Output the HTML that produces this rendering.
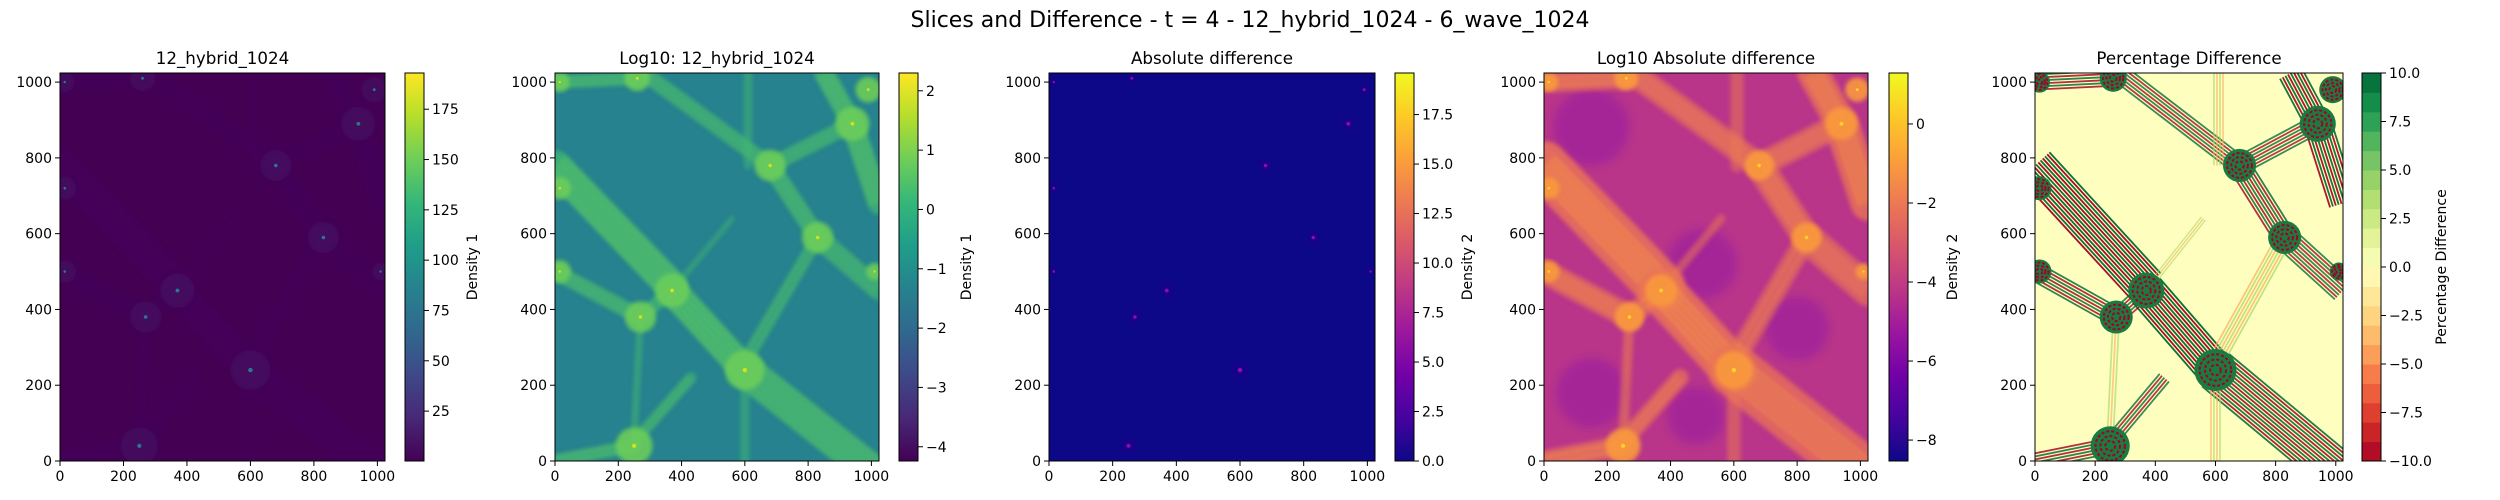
<!DOCTYPE html>
<html><head><meta charset="utf-8"><style>
html,body{margin:0;padding:0;background:#fff;}
svg{display:block;font-family:"DejaVu Sans","Liberation Sans",sans-serif;}
</style></head><body>
<svg id="fig" width="2500" height="500" viewBox="0 0 2500 500" xmlns="http://www.w3.org/2000/svg">
<defs>
<filter id="blur2" x="-10%" y="-10%" width="120%" height="120%"><feGaussianBlur stdDeviation="2"/></filter>
<filter id="blur4" x="-10%" y="-10%" width="120%" height="120%"><feGaussianBlur stdDeviation="4"/></filter>
</defs>
<text x="1250" y="27" font-size="22" text-anchor="middle" fill="#000">Slices and Difference - t = 4 - 12_hybrid_1024 - 6_wave_1024</text>
</svg>
<script>
// ---- data (data coordinates 0..1024) ----
const nodeX = [270, 370, 600, 680, 830, 940, 990, 15, 15, 250, 260, 15, 1010];
const nodeY = [380, 450, 240, 780, 590, 890, 980, 720, 500, 40, 1010, 1000, 500];
const nodeR = [55, 60, 70, 55, 55, 60, 45, 40, 40, 65, 45, 35, 30];
const filX1 = [0, 370, 600, 0, 270, 370, 280, 680, 830, 830, 680, 940, 940, 600, 610, 270, 250, 250, 0];
const filY1 = [780, 450, 240, 500, 380, 450, 1024, 780, 590, 590, 780, 890, 890, 240, 780, 380, 40, 50, 1000];
const filX2 = [370, 600, 1024, 270, 370, 560, 680, 830, 1024, 620, 940, 1024, 850, 600, 610, 250, 0, 430, 260];
const filY2 = [460, 240, -40, 380, 450, 640, 780, 590, 450, 290, 890, 680, 1024, 0, 1024, 60, 0, 220, 1010];
const filW  = [140, 130, 150, 70, 60, 25, 70, 80, 90, 60, 70, 100, 90, 40, 40, 30, 60, 50, 60];
const filS  = [1, 1, 0.8, 0.7, 0.6, 0.2, 0.6, 0.7, 0.6, 0.5, 0.6, 0.9, 0.9, 0.2, 0.2, 0.3, 0.7, 0.6, 0.7];
const axisTicks = [0, 200, 400, 600, 800, 1000];
const panelTitles = ["12_hybrid_1024", "Log10: 12_hybrid_1024", "Absolute difference", "Log10 Absolute difference", "Percentage Difference"];
const cbLabels = ["Density 1", "Density 1", "Density 2", "Density 2", "Percentage Difference"];
const cbMin = [0.2, -4.24, 0, -8.53, -10];
const cbMax = [193, 2.3, 19.6, 1.29, 10];
const cbTicks1 = [25, 50, 75, 100, 125, 150, 175];
const cbTicks2 = [-4, -3, -2, -1, 0, 1, 2];
const cbTicks3 = [0, 2.5, 5, 7.5, 10, 12.5, 15, 17.5];
const cbTicks4 = [-8, -6, -4, -2, 0];
const cbTicks5 = [-10, -7.5, -5, -2.5, 0, 2.5, 5, 7.5, 10];

// ---- layout ----
const AX = [60, 555, 1049, 1544, 2035], AW = [325, 324, 326, 324, 308];
const CBX = [405, 899, 1395, 1889, 2362], CBW = 19;
const CBLOFF = [53, 53, 58, 49, 65];
const Y0 = 73, Y1 = 461;
const NS = "http://www.w3.org/2000/svg";
const svg = document.getElementById('fig');
function mk(tag, attrs, parent){const e=document.createElementNS(NS,tag);for(const k in attrs)e.setAttribute(k,attrs[k]);(parent||svg).appendChild(e);return e;}
const defs = svg.querySelector('defs');

const viridis=["#440154","#482878","#3e4989","#31688e","#26828e","#1f9e89","#35b779","#6ece58","#b5de2b","#fde725"];
const plasma=["#0d0887","#46039f","#7201a8","#9c179e","#bd3786","#d8576b","#ed7953","#fb9f3a","#fdca26","#f0f921"];
const rdylgn=["#a50026","#d73027","#f46d43","#fdae61","#fee08b","#ffffbf","#d9ef8b","#a6d96a","#66bd63","#1a9850","#006837"];
function hex(c){return [1,3,5].map(i=>parseInt(c.substr(i,2),16));}
function interp(cm,t){t=Math.max(0,Math.min(1,t));const p=t*(cm.length-1),i=Math.min(Math.floor(p),cm.length-2),f=p-i;const a=hex(cm[i]),b=hex(cm[i+1]);return 'rgb('+a.map((v,k)=>Math.round(v+(b[k]-v)*f)).join(',')+')';}

const themes = [
 {bg:"#440154", fil:"#460b5e", filO:0.5, node:"#450a5e", spot:"#2a788e", nr:0.9},
 {bg:"#26828e", fil:"#3fb873", filO:0.75, node:"#6ccd5a", spot:"#d2e21b", nr:0.9},
 {bg:"#0d0887", fil:"#0d0887", filO:0, node:"#1f068f", spot:"#8f0da4", nr:0.4},
 {bg:"#b8358a", fil:"#ea7457", filO:0.85, node:"#f99a3e", spot:"#fdd12a", nr:0.85},
 {bg:"#feffbe", fil:null, filO:1, node:"#1a9850", spot:"#a50026", nr:1}
];

for(let p=0;p<5;p++){
  const g = mk('g',{});
  
  
  const x0=AX[p], w=AW[p];
  const sx=v=>x0+v/1024*w, sy=v=>Y1-v/1024*(Y1-Y0), sl=v=>v/1024*w;
  const cp=mk('clipPath',{id:'clip'+p},defs); mk('rect',{x:x0,y:Y0,width:w,height:Y1-Y0},cp);
  const plot=mk('g',{'clip-path':'url(#clip'+p+')'},g);
  
  
  const th=themes[p];
  mk('rect',{x:x0,y:Y0,width:w,height:Y1-Y0,fill:th.bg},plot);
  if(p===3){
    const pg=mk('g',{filter:'url(#blur4)',opacity:0.6},plot);
    [[150,880,120],[500,520,110],[150,180,110],[800,350,100],[480,120,90]].forEach(c=>mk('circle',{cx:sx(c[0]),cy:sy(c[1]),r:sl(c[2]),fill:"#9a1ca0"},pg));
  }
  const fg=mk('g',{filter:p===4?'':'url(#blur2)'},plot);
  for(let i=0;i<filX1.length;i++){
    const x1=sx(filX1[i]),y1=sy(filY1[i]),x2=sx(filX2[i]),y2=sy(filY2[i]),ww=sl(filW[i]);
    if(p<4){
      if(th.filO===0) continue;
      const ln=mk('line',{x1,y1,x2,y2,stroke:th.fil,'stroke-width':ww*(p===3?1.1:0.7),'stroke-linecap':'round',opacity:th.filO*(0.5+0.5*filS[i])},fg);
      
      
      if(p===1||p===3){
        const dx=x2-x1,dy=y2-y1,L=Math.hypot(dx,dy),nx=-dy/L,ny=dx/L,n=Math.max(2,Math.round(filW[i]/25));
        for(let k=0;k<n;k++){const o=(k-(n-1)/2)*ww*0.7/n;
          mk('line',{x1:x1+nx*o,y1:y1+ny*o,x2:x2+nx*o,y2:y2+ny*o,stroke:p===1?"#6ccd5a":"#fba238",'stroke-width':ww*0.3/n,opacity:0.7*filS[i]},fg);}
      }
    } else {
      const dx=x2-x1,dy=y2-y1,L=Math.hypot(dx,dy),nx=-dy/L,ny=dx/L,n=Math.max(3,Math.round(filW[i]/10));
      const strong=filS[i]>0.5;
      for(let k=0;k<n;k++){const o=(k-(n-1)/2)*ww/n;
        const col = k%2===0 ? (strong?"#006837":"#a6d96a") : (strong?"#a50026":"#fdae61");
        const ln=mk('line',{x1:x1+nx*o,y1:y1+ny*o,x2:x2+nx*o,y2:y2+ny*o,stroke:col,'stroke-width':ww/n*0.6,opacity:0.5+0.45*filS[i]},fg);
        
        
      }
    }
  }
  const ng=mk('g',{},plot);
  for(let i=0;i<nodeX.length;i++){
    const cx=sx(nodeX[i]),cy=sy(nodeY[i]),r=sl(nodeR[i]);
    if(p===4){
      const c=mk('circle',{cx,cy,r,fill:"#1a7a40"},ng);
      
      
      for(let k=1;k<4;k++) mk('circle',{cx,cy,r:r*k/4,fill:'none',stroke:"#a50026",'stroke-width':2,'stroke-dasharray':'3 2'},ng);
    } else {
      const c=mk('circle',{cx,cy,r:r*th.nr,fill:th.node,opacity:p===2?0.6:0.9,filter:'url(#blur2)'},ng);
      
      
      mk('circle',{cx,cy,r:Math.max(1.2,r*0.1),fill:th.spot},ng);
    }
  }
  mk('rect',{x:x0,y:Y0,width:w,height:Y1-Y0,fill:'none',stroke:'#000','stroke-width':1},g);
  axisTicks.forEach(t=>{
    mk('line',{x1:sx(t),x2:sx(t),y1:Y1,y2:Y1+5,stroke:'#000'},g);
    const tx=mk('text',{x:sx(t),y:Y1+20,'font-size':14,'text-anchor':'middle'},g);tx.textContent=t;
    
    
    mk('line',{x1:x0-5,x2:x0,y1:sy(t),y2:sy(t),stroke:'#000'},g);
    const ty=mk('text',{x:x0-8,y:sy(t)+5,'font-size':14,'text-anchor':'end'},g);ty.textContent=t;
    
    
  });
  const tt=mk('text',{x:x0+w/2,y:64,'font-size':16.7,'text-anchor':'middle'},g);tt.textContent=panelTitles[p];
  
  
  const cb=mk('g',{},g);
  
  
  const cx0=CBX[p], cmap=[viridis,viridis,plasma,plasma,rdylgn][p];
  if(p<4){
    const gr=mk('linearGradient',{id:'cg'+p,x1:0,y1:1,x2:0,y2:0},defs);
    cmap.forEach((c,i)=>mk('stop',{offset:i/(cmap.length-1),'stop-color':c},gr));
    mk('rect',{x:cx0,y:Y0,width:CBW,height:Y1-Y0,fill:'url(#cg'+p+')'},cb);
  } else {
    const nb=20,h=(Y1-Y0)/nb;
    for(let b=0;b<nb;b++){mk('rect',{x:cx0,y:Y1-(b+1)*h,width:CBW,height:h+0.5,fill:interp(rdylgn,(b+0.5)/nb)},cb);}
  }
  mk('rect',{x:cx0,y:Y0,width:CBW,height:Y1-Y0,fill:'none',stroke:'#000'},cb);
  const ticks=[cbTicks1,cbTicks2,cbTicks3,cbTicks4,cbTicks5][p];
  const cy=v=>Y1-(v-cbMin[p])/(cbMax[p]-cbMin[p])*(Y1-Y0);
  ticks.forEach(t=>{
    mk('line',{x1:cx0+CBW,x2:cx0+CBW+5,y1:cy(t),y2:cy(t),stroke:'#000'},cb);
    const lab=(p===2||p===4)?t.toFixed(1).replace('-','\u2212'):String(t).replace('-','\u2212');
    const tl=mk('text',{x:cx0+CBW+8,y:cy(t)+5,'font-size':14},cb);tl.textContent=lab;
    
    
  });
  const lx=cx0+CBW+CBLOFF[p], ly=(Y0+Y1)/2;
  const cl=mk('text',{x:lx,y:ly,'font-size':14,'text-anchor':'middle',transform:'rotate(-90 '+lx+' '+ly+')'},cb);cl.textContent=cbLabels[p];
  
  
}
</script>
</body></html>
